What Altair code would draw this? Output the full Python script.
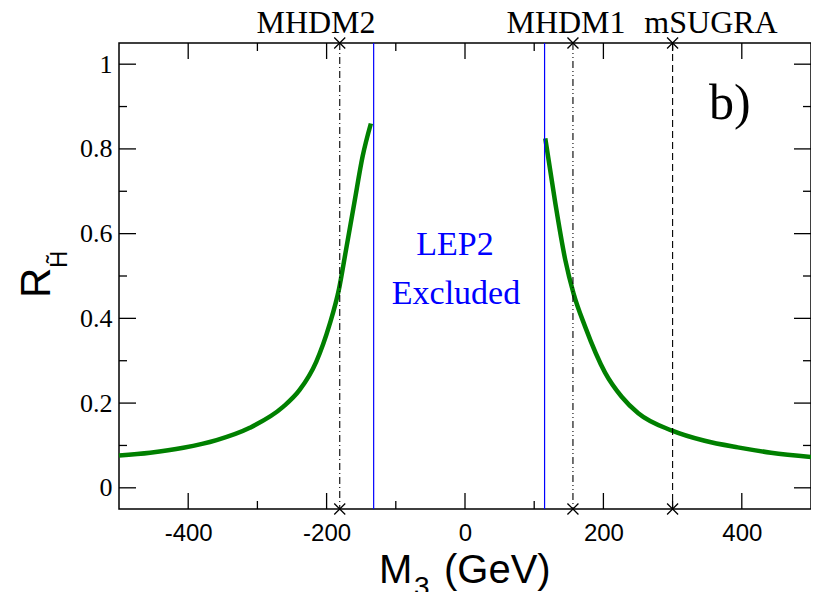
import altair as alt
import pandas as pd

# ---- data ----
left_x = [-500, -455, -407, -359, -311, -263, -239, -215, -196, -182, -172, -160, -148, -136]
left_y = [0.0765, 0.083, 0.0945, 0.1126, 0.1417, 0.191, 0.231, 0.2975, 0.384, 0.47, 0.561, 0.672, 0.782, 0.860]
right_x = [116, 130.5, 144.9, 156.8, 173.7, 202.4, 226.4, 250.4, 299.3, 346.3, 394.2, 442.2, 500]
right_y = [0.825, 0.672, 0.538, 0.459, 0.380, 0.272, 0.215, 0.176, 0.135, 0.111, 0.0954, 0.083, 0.073]

lep2_x = [-132, 115]
lep2_text = ["LEP2", "Excluded"]
model_names = ["MHDM2", "MHDM1", "mSUGRA"]
model_x = [-181, 156, 300]

x_major = [-400, -200, 0, 200, 400]
x_minor = [-300, -100, 100, 300]
y_major = [0, 0.2, 0.4, 0.6, 0.8, 1]
y_minor = [0.1, 0.3, 0.5, 0.7, 0.9]

W, H = 692, 466

curve = pd.DataFrame({
    "x": left_x + right_x,
    "y": left_y + right_y,
    "branch": ["L"] * len(left_x) + ["R"] * len(right_x),
})

xscale = alt.Scale(domain=[-500, 500], nice=False, zero=False)
yscale = alt.Scale(domain=[-0.05, 1.05], nice=False, zero=False)
xaxis = alt.Axis(values=x_major, labelExpr="'' + datum.value", title=None, ticks=False,
                 tickSize=0, domain=False, grid=False, labelFont="Liberation Sans",
                 labelFontSize=24, labelColor="black", labelPadding=12)
yaxis = alt.Axis(values=y_major, labelExpr="'' + datum.value", title=None, ticks=False,
                 tickSize=0, domain=False, grid=False, labelFont="Liberation Serif",
                 labelFontSize=26, labelColor="black", labelPadding=7)


def X(f="x"):
    return alt.X(f"{f}:Q", scale=xscale, axis=xaxis)


def Y(f="y"):
    return alt.Y(f"{f}:Q", scale=yscale, axis=yaxis)


line = alt.Chart(curve).mark_line(color="#008000", strokeWidth=4.5, interpolate="monotone").encode(
    x=X(), y=Y(), detail="branch:N", order="x:Q")

lep = alt.Chart(pd.DataFrame({"x": lep2_x})).mark_rule(color="#0000ff", strokeWidth=1.2).encode(
    x=X(), y=alt.value(0), y2=alt.value(H))

dashes = [[7, 3, 1, 3], [7, 3, 1, 3, 1, 3], [7, 4]]
vlines = []
for name, xv, d in zip(model_names, model_x, dashes):
    vlines.append(alt.Chart(pd.DataFrame({"x": [xv], "m": [name]})).mark_rule(
        color="black", strokeWidth=1.1, strokeDash=d).encode(
        x=X(), y=alt.value(0), y2=alt.value(H)))

cross = "M -1 -1 L 1 1 M -1 1 L 1 -1"
mk = pd.DataFrame({"x": model_x})
crosses_top = alt.Chart(mk).mark_point(shape=cross, size=121, filled=False, color="black",
                                       strokeWidth=1.3, opacity=1).encode(x=X(), y=alt.value(0))
crosses_bot = alt.Chart(mk).mark_point(shape=cross, size=121, filled=False, color="black",
                                       strokeWidth=1.3, opacity=1).encode(x=X(), y=alt.value(H))

# inward ticks
tick_layers = []
for vals, ln in [(x_major, 16), (x_minor, 8)]:
    df = pd.DataFrame({"x": vals})
    tick_layers.append(alt.Chart(df).mark_rule(color="black", strokeWidth=1.3).encode(
        x=X(), y=alt.value(H), y2=alt.value(H - ln)))
    tick_layers.append(alt.Chart(df).mark_rule(color="black", strokeWidth=1.3).encode(
        x=X(), y=alt.value(0), y2=alt.value(ln)))
for vals, ln in [(y_major, 17), (y_minor, 8)]:
    df = pd.DataFrame({"y": vals})
    tick_layers.append(alt.Chart(df).mark_rule(color="black", strokeWidth=1.3).encode(
        y=Y(), x=alt.value(0), x2=alt.value(ln)))
    tick_layers.append(alt.Chart(df).mark_rule(color="black", strokeWidth=1.3).encode(
        y=Y(), x=alt.value(W), x2=alt.value(W - ln)))


def label(txt, x, y, size, font="Liberation Serif", color="black", align="center", angle=0):
    return alt.Chart(pd.DataFrame({"t": [txt]})).mark_text(
        font=font, fontSize=size, color=color, align=align, baseline="alphabetic", angle=angle).encode(
        text="t:N", x=alt.value(x), y=alt.value(y))


texts = [
    label(model_names[0], 197, -10, 32),
    label(model_names[1], 447, -10, 32),
    label(model_names[2], 592, -10, 32),
    label(lep2_text[0], 336, 212, 34, color="#0000ff"),
    label(lep2_text[1], 337, 261, 34, color="#0000ff"),
    label("b)", 590, 76, 50, align="left"),
    label("M", 260, 540, 40, font="Liberation Sans", align="left"),
    label("3", 295, 553, 28, font="Liberation Sans", align="left"),
    label("(GeV)", 325, 540, 40, font="Liberation Sans", align="left"),
    label("R", -69, 255, 42, font="Liberation Sans", align="left", angle=270),
    label("H\u0303", -52, 225, 24, font="Liberation Sans", align="left", angle=270),
]

chart = alt.layer(line, lep, *vlines, *tick_layers, crosses_top, crosses_bot, *texts).properties(
    width=W, height=H,
    padding={"left": 111, "top": 35, "right": 0, "bottom": 83},
    autosize=alt.AutoSizeParams(type="none"),
).configure_view(stroke="black", strokeWidth=1.5)

chart.save("out.html", embed_options={"renderer": "svg", "actions": False})
